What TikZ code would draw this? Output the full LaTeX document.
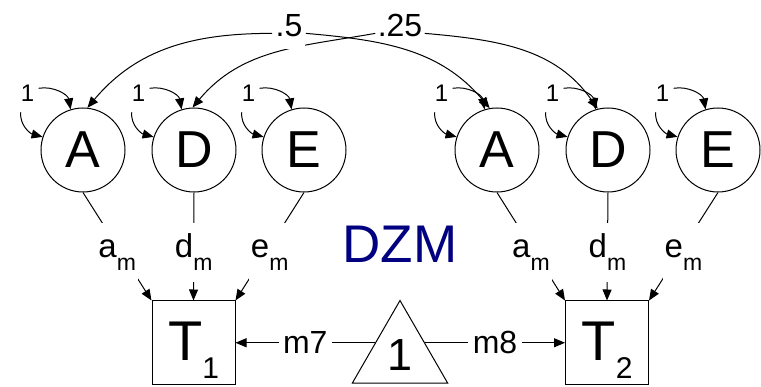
\documentclass[tikz,border=0pt]{standalone}
\usepackage{fontspec}
\setmainfont{Liberation Sans}
\usetikzlibrary{calc,arrows.meta,shapes.geometric}

\definecolor{dzmblue}{RGB}{0,0,128}
\newcommand{\pathsub}[1]{\raisebox{-13pt}{\fontsize{23}{23}\selectfont #1}}
\newcommand{\boxsub}[1]{\raisebox{-18pt}{\fontsize{30}{30}\selectfont #1}}

\tikzset{
  latent/.style={circle, draw, minimum size=84pt, inner sep=0pt, font=\fontsize{52}{52}\selectfont},
  observed/.style={rectangle, draw, minimum size=83pt, inner sep=0pt, text height=40pt, text depth=5pt, font=\fontsize{56}{56}\selectfont},
  constant/.style={regular polygon, regular polygon sides=3, draw, minimum size=110pt, inner sep=0pt, font=\fontsize{45}{45}\selectfont},
  varlabel/.style={inner xsep=4pt, inner ysep=10pt, font=\fontsize{24}{24}\selectfont},
  pathlabel/.style={fill=white, inner xsep=2pt, inner ysep=11.5pt, text height=23pt, text depth=13pt, yshift=-6pt, font=\fontsize{33}{33}\selectfont},
  covlabel/.style={inner xsep=2pt, inner ysep=1pt, font=\fontsize{32}{32}\selectfont},
  meanlabel/.style={fill=white, inner xsep=4.5pt, inner ysep=1pt, font=\fontsize{32}{32}\selectfont}
}

\begin{document}
\begin{tikzpicture}[x=1pt, y=1pt, line width=1pt, >={Triangle[length=11pt,width=9pt]}]

\useasboundingbox (0,0) rectangle (761,386);

% Latent factors, twin 1
\node[latent] (A1) at (83,236) {A};
\node[latent] (D1) at (194,236) {D};
\node[latent] (E1) at (304,236) {E};

% Latent factors, twin 2
\node[latent] (A2) at (497,236) {A};
\node[latent] (D2) at (608,236) {D};
\node[latent] (E2) at (718,236) {E};

% Observed variables and mean
\node[observed] (T1) at (193.5,43.5) {T\boxsub{1}};
\node[observed] (T2) at (607,43.5) {T\boxsub{2}};
\node[constant] (tri) at (400,30.5) {1};

% Group label
\node[font=\fontsize{53}{53}\selectfont, text=dzmblue] (dzm) at (400,142) {DZM};

% Variances
\node[varlabel] (vA1) at ($(A1)+(-55.5,56.5)$) {1};
\node[varlabel] (vD1) at ($(D1)+(-55.5,56.5)$) {1};
\node[varlabel] (vE1) at ($(E1)+(-55.5,56.5)$) {1};
\node[varlabel] (vA2) at ($(A2)+(-55.5,56.5)$) {1};
\node[varlabel] (vD2) at ($(D2)+(-55.5,56.5)$) {1};
\node[varlabel] (vE2) at ($(E2)+(-55.5,56.5)$) {1};

\draw[->] (vA1.25) to[out=10,in=100] (A1.107);
\draw[->] (vA1.250) to[out=265,in=165] (A1.162);
\draw[->] (vD1.25) to[out=10,in=100] (D1.107);
\draw[->] (vD1.250) to[out=265,in=165] (D1.162);
\draw[->] (vE1.25) to[out=10,in=100] (E1.107);
\draw[->] (vE1.250) to[out=265,in=165] (E1.162);
\draw[->] (vA2.25) to[out=10,in=100] (A2.107);
\draw[->] (vA2.250) to[out=265,in=165] (A2.162);
\draw[->] (vD2.25) to[out=10,in=100] (D2.107);
\draw[->] (vD2.250) to[out=265,in=165] (D2.162);
\draw[->] (vE2.25) to[out=10,in=100] (E2.107);
\draw[->] (vE2.250) to[out=265,in=165] (E2.162);

% Covariance D with D
\node[covlabel] (c25) at (400,361) {.25};
\draw[->] (c25.mid west) to[out=190,in=50] (D1.92);
\draw[->] (c25.mid east) to[out=-5,in=125] (D2.104);

% Covariance A with A
\node[covlabel, fill=white, inner xsep=3pt, text depth=12pt] (c5) at (289,355) {.5};
\draw[->] (c5.mid west) to[out=180,in=50] (A1.84);
\draw[->] (c5.mid east) to[out=-5,in=130] (A2.100);

% Factor loadings, twin 1
\draw[->] (A1.south) -- node[pathlabel] {a\pathsub{m}} (T1.north west);
\draw[->] (D1.south) -- node[pathlabel] {d\pathsub{m}} (T1.north);
\draw[->] (E1.south) -- node[pathlabel] {e\pathsub{m}} (T1.north east);

% Factor loadings, twin 2
\draw[->] (A2.south) -- node[pathlabel] {a\pathsub{m}} (T2.north west);
\draw[->] (D2.south) -- node[pathlabel] {d\pathsub{m}} (T2.north);
\draw[->] (E2.south) -- node[pathlabel] {e\pathsub{m}} (T2.north east);

% Means
\coordinate (tl) at ($(tri.corner 1)!0.515!(tri.corner 2)$);
\coordinate (tr) at ($(tri.corner 1)!0.515!(tri.corner 3)$);
\draw[->] (tl) -- node[meanlabel] {m7} (tl -| T1.east);
\draw[->] (tr) -- node[meanlabel] {m8} (tr -| T2.west);

\end{tikzpicture}
\end{document}
